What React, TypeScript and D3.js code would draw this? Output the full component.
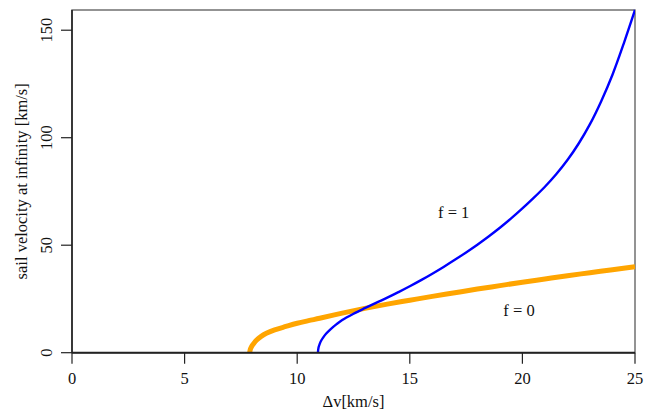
import React from "react";
import * as d3 from "d3";

const xTicks = [0, 5, 10, 15, 20, 25];
const yTicks = [0, 50, 100, 150];

// f = 0 curve (orange): delta-v [km/s] and sail velocity at infinity [km/s]
const f0Dv = [7.89, 7.92, 7.97, 8.05, 8.2, 8.4, 8.63, 9.0, 9.5, 10, 10.5, 11, 12, 13, 14, 15, 16, 17, 18, 19, 20, 21, 22, 23, 24, 25];
const f0V = [0, 1.6, 2.8, 4.0, 5.9, 7.6, 9.0, 10.6, 12.2, 13.7, 14.9, 16.0, 18.4, 20.6, 22.6, 24.4, 26.2, 27.9, 29.6, 31.2, 32.8, 34.3, 35.8, 37.2, 38.6, 40.0];

// f = 1 curve (blue)
const f1Dv = [10.92, 10.95, 11.0, 11.05, 11.15, 11.29, 11.5, 11.75, 12.0, 12.5, 13.0, 13.5, 14.0, 14.5, 15.0, 15.5, 16.0, 16.5, 17.0, 17.5, 18.0, 18.5, 19.0, 19.5, 20.0, 20.5, 21.0, 21.5, 22.0, 22.5, 23.0, 23.5, 24.0, 24.5, 25.0];
const f1V = [0, 2.5, 4.1, 5.3, 7.0, 8.9, 11.1, 13.3, 15.2, 18.1, 20.7, 23.2, 25.6, 28.2, 30.9, 33.75, 36.75, 39.9, 43.2, 46.65, 50.25, 54.05, 58.1, 62.45, 67.1, 72.0, 77.2, 83.0, 89.6, 97.3, 106.3, 117.0, 129.3, 143.8, 159.4];

const labels = [
  { text: "f = 1", x: 16.95, y: 62.5 },
  { text: "f = 0", x: 19.85, y: 17 },
];

export default function App() {
  const W = 655, H = 413;
  const left = 72, right = 635, top = 10, bottom = 352.7;
  const x = d3.scaleLinear().domain([0, 25]).range([left, right]);
  const y = d3.scaleLinear().domain([0, 159.4]).range([bottom, top]);
  const line = d3.line<[number, number]>().x(d => x(d[0])).y(d => y(d[1])).curve(d3.curveCatmullRom.alpha(0.5));
  const f0 = f0Dv.map((v, i) => [v, f0V[i]] as [number, number]);
  const f1 = f1Dv.map((v, i) => [v, f1V[i]] as [number, number]);
  const ts: React.CSSProperties = { fontFamily: '"Liberation Serif", "Times New Roman", Times, serif', fontSize: 16.5 };
  return (
    <svg width={W} height={H} style={{ position: "absolute", left: 0, top: 0, background: "#fff" }}>
      <defs>
        <clipPath id="plotclip">
          <rect x={left} y={top - 2} width={right - left} height={bottom - top + 2} />
        </clipPath>
      </defs>
      <rect x={left} y={top} width={right - left} height={bottom - top} fill="none" stroke="#666" strokeWidth={1.4} />
      <g clipPath="url(#plotclip)">
        <path d={line(f0) || ""} fill="none" stroke="#FFA500" strokeWidth={5} />
        <path d={line(f1) || ""} fill="none" stroke="#0000FF" strokeWidth={2.4} />
      </g>
      <line x1={left} x2={right} y1={y(0)} y2={y(0)} stroke="#222" strokeWidth={2} />
      <line x1={x(0)} x2={x(0)} y1={top} y2={bottom} stroke="#222" strokeWidth={1.6} />
      {xTicks.map(t => (
        <g key={"x" + t}>
          <line x1={x(t)} x2={x(t)} y1={bottom} y2={bottom + 11} stroke="#222" strokeWidth={1.2} />
          <text x={x(t)} y={384} style={ts} textAnchor="middle" fill="#111">{t}</text>
        </g>
      ))}
      {yTicks.map(t => (
        <g key={"y" + t}>
          <line x1={left} x2={left - 11} y1={y(t)} y2={y(t)} stroke="#222" strokeWidth={1.2} />
          <text transform={`translate(52,${y(t)}) rotate(-90)`} style={ts} textAnchor="middle" fill="#111">{t}</text>
        </g>
      ))}
      <text x={(left + right) / 2} y={407} style={ts} textAnchor="middle" fill="#111">Δv[km/s]</text>
      <text transform={`translate(27,${(top + bottom) / 2}) rotate(-90)`} style={ts} textAnchor="middle" fill="#111">sail velocity at infinity [km/s]</text>
      {labels.map(l => (
        <text key={l.text} x={x(l.x)} y={y(l.y)} style={ts} textAnchor="middle" fill="#111">{l.text}</text>
      ))}
    </svg>
  );
}
